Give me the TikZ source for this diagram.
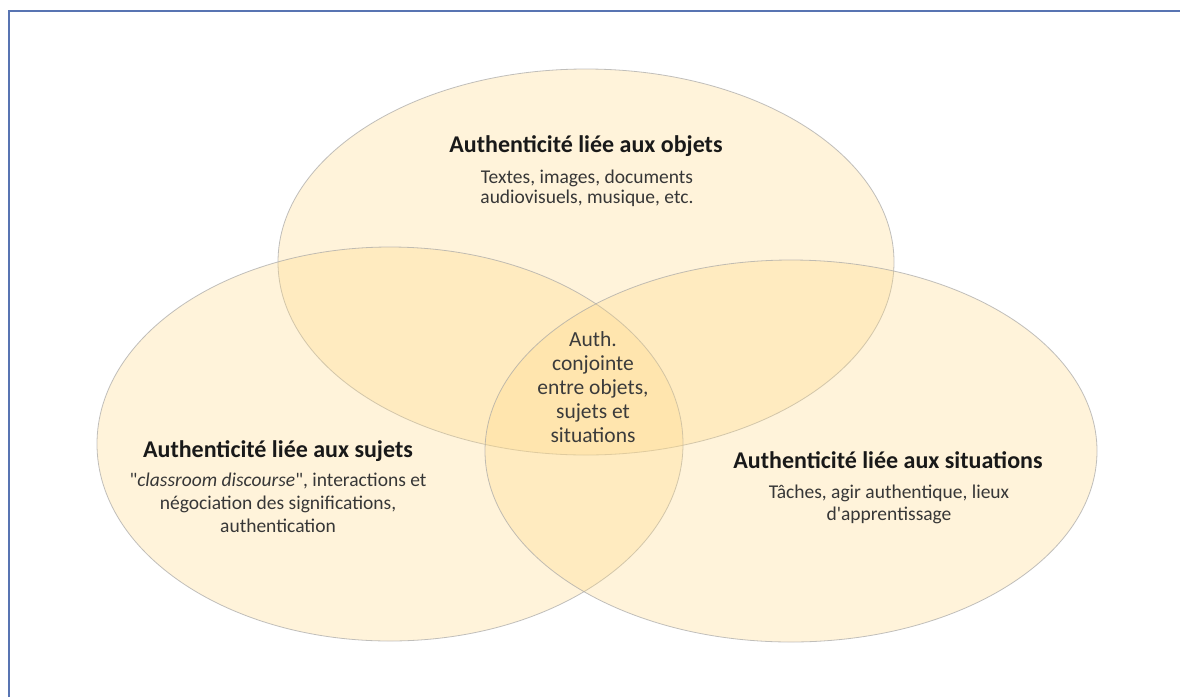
\documentclass[tikz,border=0pt]{standalone}
\usepackage{fontspec}
\setmainfont{Carlito}[Ligatures=TeXOff]
\definecolor{venn}{RGB}{255,217,133}
\definecolor{frameblue}{RGB}{88,116,178}
\definecolor{titletext}{RGB}{25,25,25}
\definecolor{bodytext}{RGB}{55,55,55}
\begin{document}
\begin{tikzpicture}[x=1pt,y=-1pt,
  vennset/.style={fill=venn,fill opacity=0.3,draw=black!35,draw opacity=0.7,line width=0.8pt},
  ttl/.style={anchor=base,inner sep=0pt,text=titletext,font=\fontsize{24}{26}\selectfont\bfseries},
  body/.style={anchor=base,inner sep=0pt,align=center,text=bodytext,font=\fontsize{19.5}{20}\selectfont},
  mid/.style={anchor=base,inner sep=0pt,align=center,text=titletext!85,font=\fontsize{21.5}{24}\selectfont}]
\useasboundingbox (0,0) rectangle (1180,697);
\fill[white] (0,0) rectangle (1180,697);
\draw[frameblue,line width=2pt] (8.5,697) -- (8.5,11) -- (1180,11);
% ellipses
\path[vennset] (586,262) ellipse [x radius=308pt, y radius=193pt];
\path[vennset] (390,444) ellipse [x radius=293pt, y radius=197pt];
\path[vennset] (791,451) ellipse [x radius=306pt, y radius=191pt];
% texts
\node[ttl] (t1) at (586,152) {Authenticité liée aux objets};
\node[body] (b1) at (587,203) {Textes, images, documents\\audiovisuels, musique, etc.};
\node[ttl] (t2) at (278,457) {Authenticité liée aux sujets};
\node[body,font=\fontsize{19.5}{23}\selectfont] (b2) at (278,532) {"\textit{classroom discourse}", interactions et\\négociation des significations,\\authentication};
\node[ttl] (t3) at (888,468) {Authenticité liée aux situations};
\node[body,font=\fontsize{19.5}{22}\selectfont] (b3) at (889,520) {Tâches, agir authentique, lieux\\d'apprentissage};
\node[mid] (c) at (593,442) {Auth.\\conjointe\\entre objets,\\sujets et\\situations};
\end{tikzpicture}
\end{document}
